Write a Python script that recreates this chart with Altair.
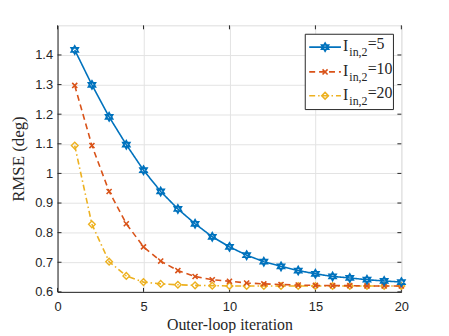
import altair as alt
import pandas as pd

iters = list(range(1, 21))
rmse_5 = [1.417, 1.299, 1.191, 1.097, 1.011, 0.939, 0.880, 0.830, 0.786, 0.752,
          0.724, 0.702, 0.686, 0.672, 0.661, 0.652, 0.647, 0.641, 0.637, 0.633]
rmse_10 = [1.297, 1.094, 0.939, 0.830, 0.752, 0.704, 0.672, 0.652, 0.641, 0.636,
           0.630, 0.627, 0.625, 0.623, 0.622, 0.621, 0.621, 0.620, 0.620, 0.620]
rmse_20 = [1.094, 0.828, 0.702, 0.654, 0.633, 0.627, 0.624, 0.622, 0.621, 0.620,
           0.620, 0.620, 0.620, 0.620, 0.620, 0.620, 0.620, 0.620, 0.620, 0.620]
series_names = ["5", "10", "20"]
x_ticks = [0, 5, 10, 15, 20]
y_ticks = [0.6, 0.7, 0.8, 0.9, 1.0, 1.1, 1.2, 1.3, 1.4]

W, H = 347, 269
BLUE, RED, YEL = "#0072BD", "#D95319", "#EDB120"
AX = "#262626"
HEX = "M0,-1L0.866,0.5L-0.866,0.5Z M0,1L0.866,-0.5L-0.866,-0.5Z"
XMARK = "M-1,-1L1,1M-1,1L1,-1"

df = pd.concat([
    pd.DataFrame({"it": iters, "rmse": rmse_5, "s": "5"}),
    pd.DataFrame({"it": iters, "rmse": rmse_10, "s": "10"}),
    pd.DataFrame({"it": iters, "rmse": rmse_20, "s": "20"}),
])

xs = alt.Scale(domain=[0, 20], nice=False)
ys = alt.Scale(domain=[0.6, 1.5], nice=False, zero=False)

xax = alt.Axis(values=x_ticks, title="Outer-loop iteration", labelPadding=9, titlePadding=3,
               titleFontSize=16, labelOverlap=False, labelFlush=False)
yax = alt.Axis(values=y_ticks, title="RMSE (deg)", labelPadding=5, titlePadding=7,
               titleFontSize=17, labelOverlap=False, labelBound=False, labelFlush=False,
               labelExpr="datum.value == 1 ? '1' : format(datum.value, '.1f')")

def X(f):
    return alt.X(f, type="quantitative", scale=xs, axis=xax)

def Y(f):
    return alt.Y(f, type="quantitative", scale=ys, axis=yax)

ydf = pd.DataFrame({"it": [0.0] * len(y_ticks), "rmse": y_ticks})
xdf = pd.DataFrame({"it": x_ticks, "rmse": [0.6] * len(x_ticks)})

# inward ticks on all four sides
tk = []
tk.append(alt.Chart(ydf).mark_rule(color=AX, strokeWidth=1).encode(
    y=Y("rmse"), x=alt.value(0), x2=alt.value(4)))
tk.append(alt.Chart(xdf).mark_rule(color=AX, strokeWidth=1).encode(
    x=X("it"), y=alt.value(H - 4), y2=alt.value(H)))
tk.append(alt.Chart(ydf).mark_rule(color=AX, strokeWidth=1).encode(
    y=Y("rmse"), x=alt.value(W - 4), x2=alt.value(W)))
tk.append(alt.Chart(xdf).mark_rule(color=AX, strokeWidth=1).encode(
    x=X("it"), y=alt.value(0), y2=alt.value(4)))

def series(name, color, dash, shape, size, sw):
    d = df[df.s == name]
    base = alt.Chart(d)
    enc = dict(x=X("it"), y=Y("rmse"))
    line = base.mark_line(color=color, strokeWidth=1.6, strokeDash=dash).encode(**enc)
    pts = base.mark_point(color=color, shape=shape, size=size, filled=False,
                          strokeWidth=sw, opacity=1).encode(**enc)
    return [line, pts]

l20 = series("20", YEL, [6, 3, 1.5, 3], "diamond", 45, 1.4)
l10 = series("10", RED, [6, 4], XMARK, 26, 1.6)
l5 = series("5", BLUE, [1, 0], HEX, 70, 1.6)

# legend (manual, with subscripts)
LX0, LY0, LX1, LY1 = 250, 9, 339, 85
leg = []
leg.append(alt.Chart(pd.DataFrame({"a": [0]})).mark_rect(
    fill="white", stroke=AX, strokeWidth=1).encode(
    x=alt.value(LX0), x2=alt.value(LX1), y=alt.value(LY0), y2=alt.value(LY1)))
rows = [(22, BLUE, [1, 0], HEX, 70, series_names[0]),
        (47, RED, [6, 4], XMARK, 26, series_names[1]),
        (71, YEL, [6, 3, 1.5, 3], "diamond", 45, series_names[2])]
for (yy, c, dash, shp, sz, nm) in rows:
    one = pd.DataFrame({"a": [0]})
    leg.append(alt.Chart(one).mark_rule(color=c, strokeWidth=1.6, strokeDash=dash).encode(
        x=alt.value(LX0 + 4), x2=alt.value(LX0 + 36), y=alt.value(yy)))
    leg.append(alt.Chart(one).mark_point(color=c, shape=shp, size=sz, filled=False,
                                         strokeWidth=1.6, opacity=1).encode(
        x=alt.value(LX0 + 20), y=alt.value(yy)))
    leg.append(alt.Chart(one).mark_text(text="I", font="Liberation Serif", fontSize=16,
                                        color=AX, align="left", baseline="alphabetic").encode(
        x=alt.value(LX0 + 38), y=alt.value(yy + 4)))
    leg.append(alt.Chart(one).mark_text(text="in,2", font="Liberation Serif", fontSize=12,
                                        color=AX, align="left", baseline="alphabetic").encode(
        x=alt.value(LX0 + 44.5), y=alt.value(yy + 9)))
    leg.append(alt.Chart(one).mark_text(text="=" + nm, font="Liberation Serif", fontSize=16,
                                        color=AX, align="left", baseline="alphabetic").encode(
        x=alt.value(LX0 + 63), y=alt.value(yy + 2)))

chart = alt.layer(*tk, *l20, *l10, *l5, *leg).properties(
    width=W, height=H,
    autosize=alt.AutoSizeParams(type="none"),
    padding={"left": 50, "top": 16, "right": 40, "bottom": 40},
).configure_view(stroke=AX, strokeWidth=1).configure(background="white").configure_axis(
    grid=True, gridColor="#e3e3e3", domainColor=AX, tickSize=0,
    labelFont="Liberation Sans", labelFontSize=13, labelColor=AX,
    titleFont="Liberation Serif", titleFontWeight="normal", titleColor=AX)

chart.save("out.html", embed_options={"renderer": "svg", "actions": False})
